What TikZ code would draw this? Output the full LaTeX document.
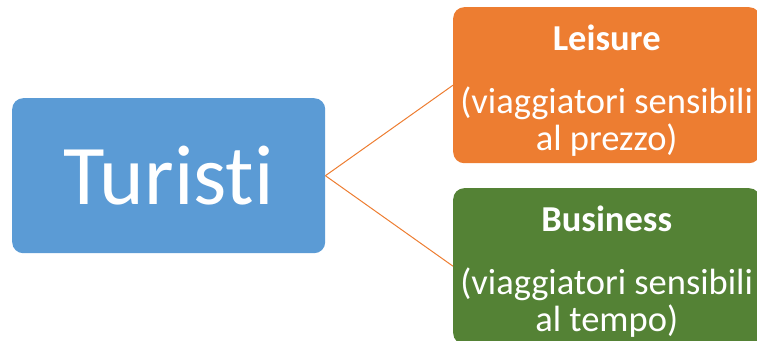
\documentclass[tikz,border=0pt]{standalone}
\usepackage{fontspec}
\setmainfont{Carlito}[Ligatures=NoCommon]
\definecolor{boxblue}{HTML}{5B9BD5}
\definecolor{boxorange}{HTML}{ED7D31}
\definecolor{boxgreen}{HTML}{548235}
\begin{document}
\begin{tikzpicture}[x=1pt,y=-1pt,
  box/.style={fill=#1,rounded corners=11pt,inner sep=0pt,anchor=north west,text=white,align=center},
  sub/.style={box=#1,minimum width=307pt,minimum height=156pt},
  subtext/.style={text=white,align=center,inner sep=0pt,font=\fontsize{36.5}{37}\selectfont},
  link/.style={draw=boxorange,line width=1pt}]
\useasboundingbox (0,0) rectangle (757,340);
\node[box=boxblue,minimum width=313pt,minimum height=155pt,font=\fontsize{85}{90}\selectfont] (tur) at (12,98) {Turisti};
\node[sub=boxorange] (lei) at (453,7) {};
\node[sub=boxgreen] (bus) at (453,188) {};
\node[subtext] (leitext) at ([yshift=-5pt]lei.center) {\textbf{Leisure}\\[26pt](viaggiatori sensibili\\al prezzo)};
\node[subtext] (bustext) at ([yshift=-5pt]bus.center) {\textbf{Business}\\[26pt](viaggiatori sensibili\\al tempo)};
\draw[link] (tur.east) -- (lei.west);
\draw[link] (tur.east) -- (bus.west);
\end{tikzpicture}
\end{document}
